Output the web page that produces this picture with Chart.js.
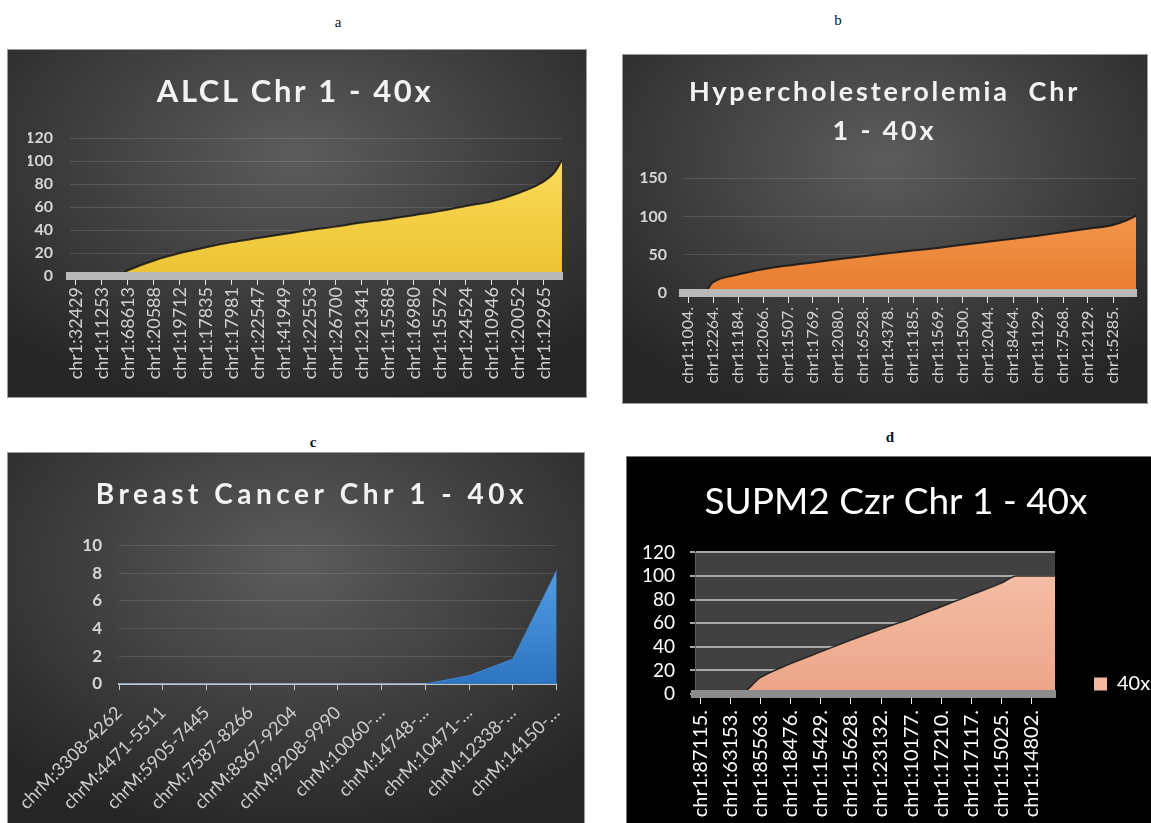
<!DOCTYPE html>
<html>
<head>
<meta charset="utf-8">
<script src="https://cdn.jsdelivr.net/npm/chart.js@4.4.1/dist/chart.umd.min.js"></script>
<style>
body { margin: 0; background: #fff; }
#page { position: relative; width: 1151px; height: 823px; overflow: hidden; background: #fff; }
.panel { position: absolute; }
.dark { background: radial-gradient(ellipse 70% 75% at 50% 30%, #5c5c5c 0%, #3e3e3e 55%, #262626 100%); outline: 1px solid #9a9a9a; }
.black { background: #000; outline: 1px solid #777; }
.tag { position: absolute; transform: translate(-50%, -50%); font-family: "Liberation Serif", serif; font-size: 15px; color: #111; }
canvas { display: block; }
</style>
</head>
<body>
<div id="page">
  <div class="tag" style="left:338px;top:22px">a</div>
  <div class="tag" style="left:838px;top:20px">b</div>
  <div class="tag" style="left:313px;top:442px;font-weight:bold">c</div>
  <div class="tag" style="left:890px;top:437px;font-weight:bold">d</div>

  <div class="panel dark" style="left:8px;top:50px;width:578px;height:347px"><canvas id="chartA" width="578" height="347"></canvas></div>
  <div class="panel dark" style="left:623px;top:55px;width:524px;height:348px"><canvas id="chartB" width="524" height="348"></canvas></div>
  <div class="panel dark" style="left:8px;top:453px;width:576px;height:370px"><canvas id="chartC" width="576" height="370"></canvas></div>
  <div class="panel black" style="left:627px;top:457px;width:524px;height:366px"><canvas id="chartD" width="524" height="366"></canvas></div>
</div>

<script>
// a - ALCL
const alclTicks = ["chr1:32429","chr1:11253","chr1:68613","chr1:20588","chr1:19712","chr1:17835","chr1:17981","chr1:22547","chr1:41949","chr1:22553","chr1:26700","chr1:21341","chr1:15588","chr1:16980","chr1:15572","chr1:24524","chr1:10946","chr1:20052","chr1:12965"];
const alclPos = [-0.23, 0, 1, 1.55, 2, 3, 4, 5, 6, 7, 8, 9, 10, 11, 12, 13, 14, 15, 16, 17, 17.9, 18.4, 18.7];
const alclVals = [0, 0, 0, 0, 5, 13.5, 20, 25, 29.5, 33, 36.5, 40, 43, 46.5, 49.5, 53, 56.5, 61, 65, 72, 81, 90, 101];

// b - Hypercholesterolemia
const hyperTicks = ["chr1:1004.","chr1:2264.","chr1:1184.","chr1:2066.","chr1:1507.","chr1:1769.","chr1:2080.","chr1:6528.","chr1:4378.","chr1:1185.","chr1:1569.","chr1:1500.","chr1:2044.","chr1:8464.","chr1:1129.","chr1:7568.","chr1:2129.","chr1:5285."];
const hyperPos = [-0.2, 0, 0.6, 1, 2, 3, 4, 5, 6, 7, 8, 9, 10, 11, 12, 13, 14, 15, 16, 17, 17.55, 17.92];
const hyperVals = [0, 0, 0, 14, 24, 31, 36, 40, 44, 48, 52, 55.5, 59, 63, 67, 71, 75, 79.5, 84, 89, 95, 101];

// c - Breast Cancer
const breastTicks = ["chrM:3308-4262","chrM:4471-5511","chrM:5905-7445","chrM:7587-8266","chrM:8367-9204","chrM:9208-9990","chrM:10060-…","chrM:14748-…","chrM:10471-…","chrM:12338-…","chrM:14150-…"];
const breastVals = [0, 0, 0, 0, 0, 0, 0, 0, 0.6, 1.8, 8.2];

// d - SUPM2 Czr
const supmTicks = ["chr1:87115.","chr1:63153.","chr1:85563.","chr1:18476.","chr1:15429.","chr1:15628.","chr1:23132.","chr1:10177.","chr1:17210.","chr1:17117.","chr1:15025.","chr1:14802."];
const supmPos = [-0.18, 0, 1, 1.29, 2, 3, 4, 5, 6, 7, 8, 9, 10, 10.5, 11, 11.78];
const supmVals = [0, 0, 0, 0, 14, 25.7, 35.7, 45.7, 55, 64, 74, 84, 94, 100, 100, 100];

Chart.defaults.font.family = "Lato, 'Open Sans', sans-serif";

function points(xs, ys) {
    return xs.map((x, i) => ({ x: x, y: ys[i] }));
}

function vGrad(top, bottom) {
    return function(ctx) {
        const area = ctx.chart.chartArea;
        if (!area) return top;
        const g = ctx.chart.ctx.createLinearGradient(0, area.top, 0, area.bottom);
        g.addColorStop(0, top);
        g.addColorStop(1, bottom);
        return g;
    };
}

function tickAxis(labels, min, max, height, font, color, tickLen, pad, band) {
    return {
        type: "linear", min: min, max: max,
        afterBuildTicks: s => { s.ticks = labels.map((t, i) => ({ value: i })); },
        afterFit: s => { s.height = height; },
        ticks: { autoSkip: false, minRotation: 90, maxRotation: 90, color: color, font: { size: font }, padding: pad,
                 callback: (v, i) => labels[i] },
        grid: { drawOnChartArea: false, color: "#e6e6e6", tickLength: tickLen },
        border: { color: band, width: 8, z: 1 }
    };
}

// grey plot area (panel d)
const plotBg = {
    id: "plotBg",
    beforeDraw(chart, args, opts) {
        if (!opts.color) return;
        const a = chart.chartArea;
        chart.ctx.save();
        chart.ctx.fillStyle = opts.color;
        chart.ctx.fillRect(a.left, a.top, a.width, a.height);
        chart.ctx.restore();
    }
};

// letter spaced chart titles, like the office charts
const spacedTitle = {
    id: "spacedTitle",
    beforeDraw(chart, args, opts) {
        const tb = chart.titleBlock;
        if (!tb || tb._spaced || !opts.spacing) return;
        const draw = tb.draw;
        tb.draw = function(area) {
            this.ctx.save();
            this.ctx.letterSpacing = opts.spacing + "px";
            draw.call(this, area);
            this.ctx.restore();
        };
        tb._spaced = true;
    }
};

const base = { responsive: false, animation: false, devicePixelRatio: 1 };

new Chart(document.getElementById("chartA"), {
    type: "line",
    data: { datasets: [{
        data: points(alclPos, alclVals),
        fill: "origin",
        backgroundColor: vGrad("#ffe060", "#ebc232"),
        borderColor: "rgba(20,20,20,0.85)",
        borderWidth: 2,
        pointRadius: 0,
        cubicInterpolationMode: "monotone"
    }] },
    plugins: [spacedTitle],
    options: Object.assign({}, base, {
        layout: { padding: { left: 20, right: 24 } },
        plugins: {
            spacedTitle: { spacing: 2.6 },
            legend: { display: false }, tooltip: { enabled: false },
            title: { display: true, text: "ALCL Chr 1 - 40x", color: "#f2f2f2",
                     font: { size: 31, weight: "bold" }, padding: { top: 23, bottom: 28 } }
        },
        scales: {
            x: tickAxis(alclTicks, -0.23, 18.7, 121, 18, "#d2d2d2", 9, 2, "#b9b9b9"),
            y: { min: 0, max: 120, afterFit: s => { s.width = 42; },
                 ticks: { stepSize: 20, autoSkip: false, color: "#d6d6d6", font: { size: 16, weight: "bold" }, padding: 17 },
                 grid: { color: "rgba(255,255,255,0.13)", drawTicks: false },
                 border: { display: false } }
        }
    })
});

new Chart(document.getElementById("chartB"), {
    type: "line",
    data: { datasets: [{
        data: points(hyperPos, hyperVals),
        fill: "origin",
        backgroundColor: vGrad("#f9a25a", "#e77c2e"),
        borderColor: "rgba(20,20,20,0.85)",
        borderWidth: 2,
        pointRadius: 0,
        cubicInterpolationMode: "monotone"
    }] },
    plugins: [spacedTitle],
    options: Object.assign({}, base, {
        layout: { padding: { left: 10, right: 11 } },
        plugins: {
            spacedTitle: { spacing: 2.8 },
            legend: { display: false }, tooltip: { enabled: false },
            title: { display: true, text: ["Hypercholesterolemia  Chr", "1 - 40x"], color: "#f2f2f2",
                     font: { size: 27, weight: "bold", lineHeight: 1.45 }, padding: { top: 18, bottom: 27 } }
        },
        scales: {
            x: tickAxis(hyperTicks, -0.2, 17.92, 110, 16, "#d2d2d2", 10, 4, "#b9b9b9"),
            y: { min: 0, max: 150, afterFit: s => { s.width = 50; },
                 ticks: { stepSize: 50, color: "#d6d6d6", font: { size: 16, weight: "bold" }, padding: 16 },
                 grid: { color: "rgba(255,255,255,0.13)", drawTicks: false },
                 border: { display: false } }
        }
    })
});

new Chart(document.getElementById("chartC"), {
    type: "line",
    data: {
        labels: breastTicks,
        datasets: [{
            data: breastVals,
            fill: "origin",
            backgroundColor: vGrad("#5aa5ec", "#2e74c0"),
            borderColor: "#3f8ad6",
            borderWidth: 1,
            pointRadius: 0,
            tension: 0
        }]
    },
    plugins: [spacedTitle],
    options: Object.assign({}, base, {
        layout: { padding: { left: 57, right: 25 } },
        plugins: {
            spacedTitle: { spacing: 4.5 },
            legend: { display: false }, tooltip: { enabled: false },
            title: { display: true, text: "Breast Cancer Chr 1 - 40x", color: "#f2f2f2",
                     font: { size: 28, weight: "bold" }, padding: { top: 25, bottom: 34 } }
        },
        scales: {
            x: { afterFit: s => { s.height = 139; },
                 ticks: { autoSkip: false, minRotation: 45, maxRotation: 45, color: "#cfcfcf", font: { size: 18 }, padding: 12 },
                 grid: { drawOnChartArea: false, color: "#c4c4c4", tickLength: 6 },
                 border: { color: "#c4c4c4", width: 2 } },
            y: { min: 0, max: 10, afterFit: s => { s.width = 54; },
                 ticks: { stepSize: 2, autoSkip: false, color: "#d6d6d6", font: { size: 17, weight: "bold" }, padding: 17 },
                 grid: { color: "rgba(255,255,255,0.13)", drawTicks: false },
                 border: { display: false } }
        }
    })
});

new Chart(document.getElementById("chartD"), {
    type: "line",
    data: { datasets: [{
        label: "40x",
        data: points(supmPos, supmVals),
        fill: "origin",
        backgroundColor: vGrad("#f6c2aa", "#eba488"),
        borderColor: "rgba(30,30,30,0.9)",
        borderWidth: 1.5,
        pointRadius: 0,
        cubicInterpolationMode: "monotone"
    }] },
    plugins: [plotBg],
    options: Object.assign({}, base, {
        layout: { padding: { left: 14, right: 0 } },
        plugins: {
            plotBg: { color: "#414141" },
            tooltip: { enabled: false },
            legend: {
                position: "right", align: "end", fullSize: false, maxWidth: 57,
                labels: {
                    boxWidth: 13, boxHeight: 13, padding: 0, color: "#ffffff", font: { size: 20 },
                    generateLabels: chart => [{ text: chart.data.datasets[0].label, fillStyle: "#f2b8a0",
                                                strokeStyle: "#f2b8a0", lineWidth: 0, fontColor: "#ffffff", datasetIndex: 0 }]
                }
            },
            title: { display: true, text: "SUPM2 Czr Chr 1 - 40x", color: "#ffffff",
                     font: { size: 37, weight: "normal" }, padding: { top: 23, bottom: 28 } }
        },
        scales: {
            x: tickAxis(supmTicks, -0.18, 11.78, 129, 20, "#ffffff", 10, 6, "#8c8c8c"),
            y: { min: 0, max: 120, afterFit: s => { s.width = 54; },
                 ticks: { stepSize: 20, autoSkip: false, color: "#ffffff", font: { size: 19 }, padding: 15 },
                 grid: { color: "#a8a8a8", lineWidth: 2, tickLength: 5 },
                 border: { color: "#5e5e5e", width: 1 } },
            yRight: { position: "right", display: true, afterFit: s => { s.width = 39; },
                      grid: { display: false }, ticks: { display: false }, border: { display: false } }
        }
    })
});
</script>
</body>
</html>
